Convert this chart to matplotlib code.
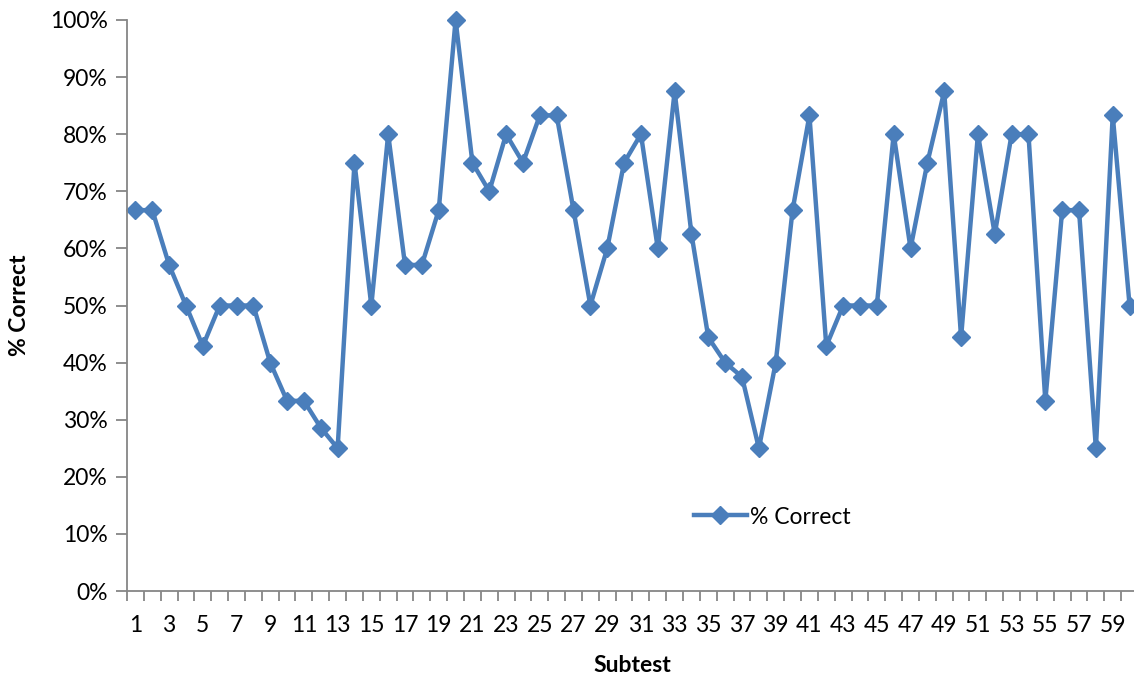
import matplotlib
matplotlib.use("Agg")
import matplotlib.pyplot as plt
from matplotlib.ticker import PercentFormatter, FixedLocator

subtests = list(range(1, 61))
pct_correct = [66.7, 66.7, 57.1, 50, 42.9, 50, 50, 50, 40, 33.3,
               33.3, 28.6, 25, 75, 50, 80, 57.1, 57.1, 66.7, 100,
               75, 70, 80, 75, 83.3, 83.3, 66.7, 50, 60, 75,
               80, 60, 87.5, 62.5, 44.4, 40, 37.5, 25, 40, 66.7,
               83.3, 42.9, 50, 50, 50, 80, 60, 75, 87.5, 44.4,
               80, 62.5, 80, 80, 33.3, 66.7, 66.7, 25, 83.3, 50]
series_name = "% Correct"
xlabels = [str(s) if s % 2 == 1 else "" for s in subtests]

plt.rcParams['font.family'] = ['Lato', 'DejaVu Sans']
color = "#4A7EBB"
axis_color = "#868686"

fig = plt.figure(figsize=(11.34, 6.76), dpi=100)
ax = fig.add_axes([127/1134, 85/676, 1011/1134, 571/676])
ax.plot(subtests, pct_correct, color=color, lw=3.2, marker='D', ms=9.5,
        mec=color, mfc=color, label=series_name, clip_on=False)
ax.set_xlim(0.5, 60.5)
ax.set_ylim(0, 100)
ax.yaxis.set_major_locator(FixedLocator(range(0, 101, 10)))
ax.yaxis.set_major_formatter(PercentFormatter(decimals=0))
ax.set_xticks(subtests)
ax.set_xticklabels(xlabels)
ax.xaxis.set_minor_locator(FixedLocator([i + 0.5 for i in range(0, 61)]))
ax.tick_params(axis='x', which='major', length=0, labelsize=16.5, pad=17)
ax.tick_params(axis='x', which='minor', length=7, width=1.3, color=axis_color)
ax.tick_params(axis='y', length=8, width=1.3, color=axis_color, labelsize=16.5, pad=6)
for s in ['top', 'right']:
    ax.spines[s].set_visible(False)
for s in ['left', 'bottom']:
    ax.spines[s].set_color(axis_color)
    ax.spines[s].set_linewidth(1.3)
ax.set_xlabel("Subtest", fontsize=16.5, fontweight='bold', labelpad=14)
ax.set_ylabel("% Correct", fontsize=16.5, fontweight='bold', labelpad=14)
leg = ax.legend(loc='center left', bbox_to_anchor=(694/1134, 1 - 517/676),
                bbox_transform=fig.transFigure, frameon=False, fontsize=16.5,
                handlelength=2.3, handletextpad=0.15, borderpad=0, borderaxespad=0)
fig.savefig("out.png", dpi=100)
